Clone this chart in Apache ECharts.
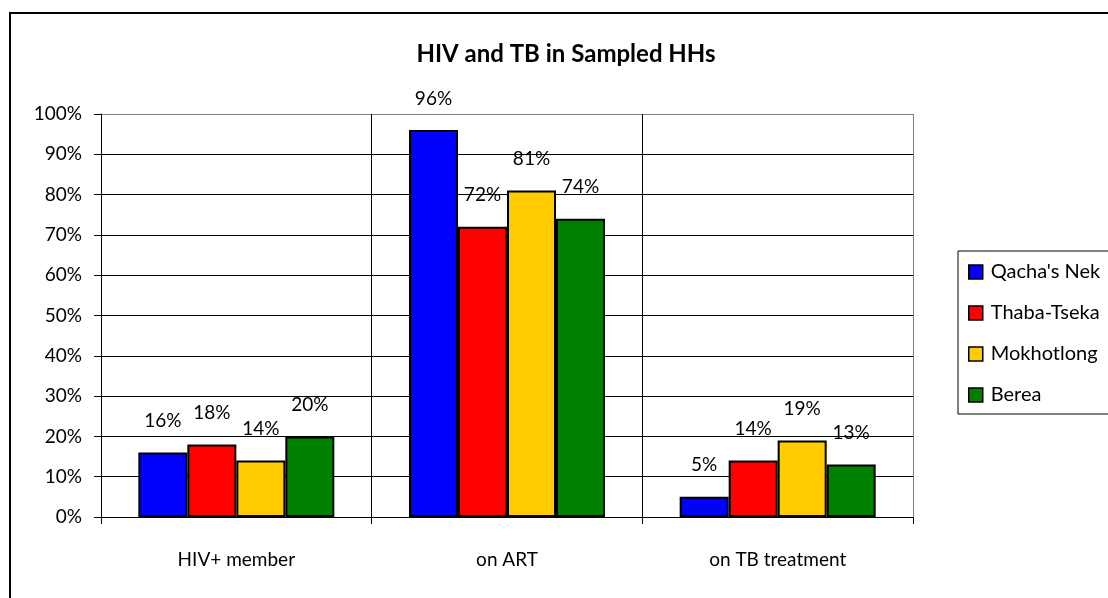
<!DOCTYPE html>
<html>
<head>
<meta charset="utf-8">
<script src="https://cdn.jsdelivr.net/npm/echarts@6/dist/echarts.min.js"></script>
<style>
  html, body { margin: 0; padding: 0; background: #fff; }
  #chart { width: 1108px; height: 598px; }
</style>
</head>
<body>
<div id="chart"></div>
<script>
// data
var categories = ['HIV+ member', 'on ART', 'on TB treatment']
var regions = ["Qacha's Nek", 'Thaba-Tseka', 'Mokhotlong', 'Berea']
var qachasNek = [16, 96, 5]
var thabaTseka = [18, 72, 14]
var mokhotlong = [14, 81, 19]
var berea = [20, 74, 13]
var yTicks = [0, 10, 20, 30, 40, 50, 60, 70, 80, 90, 100]

var values = [qachasNek, thabaTseka, mokhotlong, berea]
var colors = ['#0000ff', '#ff0000', '#ffcc00', '#008000']
var font = 'Lato, "DejaVu Sans", sans-serif'

var chart = echarts.init(document.getElementById('chart'), null, { renderer: 'canvas' })

// split line colours: black inside, grey for the plot border at 100%
var ySplitColors = yTicks.map(function (t) { return t === 100 ? '#808080' : '#000' })

var series = regions.map(function (name, i) {
  return {
    name: name,
    type: 'bar',
    data: values[i],
    barWidth: 49,
    barGap: '0%',
    itemStyle: { color: colors[i], borderColor: '#000', borderWidth: 2 },
    label: {
      show: true,
      position: 'top',
      distance: 22,
      formatter: '{c}%',
      fontFamily: font,
      fontSize: 19,
      color: '#000'
    }
  }
})

var option = {
  animation: false,
  backgroundColor: '#fff',
  graphic: [
    {
      type: 'rect',
      shape: { x: 10, y: 13, width: 1200, height: 700 },
      style: { fill: 'none', stroke: '#000', lineWidth: 2 }
    },
    {
      type: 'text',
      x: 566,
      y: 54,
      style: {
        text: 'HIV and TB in Sampled HHs',
        font: 'bold 24px ' + font,
        align: 'center',
        verticalAlign: 'middle',
        fill: '#000'
      }
    }
  ],
  legend: {
    orient: 'vertical',
    left: 958,
    top: 251,
    padding: [11, 40, 9, 10],
    itemGap: 21,
    itemWidth: 14,
    itemHeight: 14,
    icon: 'rect',
    borderColor: '#000',
    borderWidth: 1,
    itemStyle: { borderColor: '#000', borderWidth: 1.5 },
    textStyle: { fontFamily: font, fontSize: 20, lineHeight: 20, color: '#000', padding: [0, 0, 0, 3] },
    data: regions
  },
  grid: { left: 101, right: 195, top: 114, bottom: 81, containLabel: false },
  xAxis: {
    type: 'category',
    data: categories,
    axisLine: { lineStyle: { color: '#000', width: 1 } },
    axisTick: { show: true, length: 7, lineStyle: { color: '#000' } },
    axisLabel: { margin: 33, fontFamily: font, fontSize: 19, color: '#000' },
    splitLine: { show: true, lineStyle: { color: ['#000', '#000', '#000', '#808080'], width: 1 } }
  },
  yAxis: {
    type: 'value',
    min: 0,
    max: 100,
    interval: 10,
    axisLine: { show: true, lineStyle: { color: '#000', width: 1 } },
    axisTick: { show: true, length: 7, lineStyle: { color: '#000' } },
    axisLabel: { formatter: '{value}%', margin: 19, fontFamily: font, fontSize: 19, color: '#000' },
    splitLine: { show: true, lineStyle: { color: ySplitColors, width: 1 } }
  },
  series: series
}

chart.setOption(option)
</script>
</body>
</html>
